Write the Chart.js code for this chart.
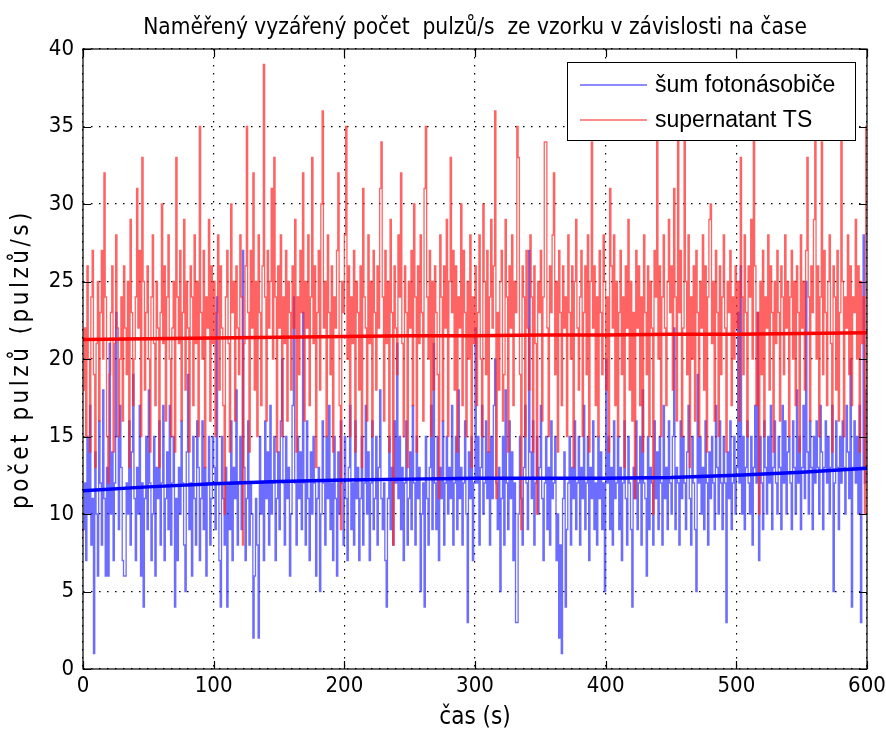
<!DOCTYPE html>
<html>
<head>
<meta charset="utf-8">
<script src="https://cdn.jsdelivr.net/npm/chart.js@4/dist/chart.umd.min.js"></script>
<style>
  html, body { margin: 0; padding: 0; background: #fff; }
  #wrap { width: 886px; height: 731px; }
</style>
</head>
<body>
<div id="wrap"><canvas id="chart" width="886" height="731"></canvas></div>
<script>
// counts per second, one sample per second, 0..600 s
const supernatant = [
  18, 22, 15, 26, 20, 14, 24, 27, 19, 13, 21, 25, 16, 23, 27, 20, 32, 24, 15, 12,
  19, 23, 26, 14, 21, 28, 22, 15, 20, 24, 16, 26, 22, 19, 25, 13, 29, 23, 17, 20,
  24, 31, 22, 27, 15, 33, 25, 18, 23, 26, 20, 14, 24, 28, 21, 17, 25, 22, 13, 23,
  30, 21, 26, 16, 24, 28, 20, 15, 22, 25, 14, 33, 24, 21, 27, 16, 23, 29, 18, 25,
  22, 14, 26, 24, 17, 28, 21, 25, 15, 35, 23, 20, 27, 13, 24, 22, 29, 16, 26, 21,
  25, 15, 23, 28, 18, 26, 22, 17, 10, 24, 27, 21, 14, 30, 23, 25, 16, 26, 22, 19,
  28, 24, 8, 21, 26, 35, 23, 14, 27, 22, 32, 18, 25, 15, 28, 23, 17, 26, 39, 24,
  16, 27, 22, 25, 31, 20, 33, 24, 14, 26, 22, 28, 15, 24, 21, 27, 16, 25, 23, 18,
  26, 22, 29, 14, 24, 19, 27, 23, 32, 16, 25, 22, 28, 17, 24, 33, 21, 26, 13, 23,
  27, 18, 30, 36, 22, 25, 15, 28, 23, 19, 26, 14, 24, 22, 27, 32, 17, 9, 25, 23,
  28, 35, 20, 26, 15, 24, 21, 27, 14, 25, 23, 18, 26, 13, 31, 24, 22, 16, 28, 21,
  25, 15, 27, 23, 18, 26, 22, 31, 34, 24, 16, 27, 21, 25, 14, 29, 23, 8, 26, 22,
  19, 28, 24, 32, 21, 15, 26, 23, 13, 25, 22, 27, 17, 30, 24, 14, 26, 21, 28, 23,
  16, 31, 35, 24, 20, 27, 15, 25, 18, 26, 23, 19, 11, 28, 24, 16, 26, 22, 29, 15,
  25, 33, 23, 27, 18, 26, 14, 24, 22, 30, 17, 27, 23, 15, 25, 20, 28, 13, 24, 21,
  26, 17, 23, 28, 20, 15, 30, 25, 19, 27, 14, 24, 29, 22, 26, 36, 11, 23, 18, 25,
  27, 16, 19, 29, 24, 14, 26, 22, 28, 17, 25, 23, 35, 33, 19, 9, 26, 24, 15, 27,
  22, 18, 28, 24, 14, 26, 21, 10, 25, 23, 27, 16, 24, 34, 34, 22, 15, 26, 23, 28,
  32, 19, 25, 14, 27, 23, 17, 26, 22, 24, 15, 28, 23, 20, 26, 13, 25, 29, 22, 18,
  24, 27, 15, 23, 26, 19, 28, 14, 25, 34, 22, 26, 17, 24, 15, 27, 23, 19, 28, 25,
  18, 24, 14, 31, 26, 22, 28, 17, 25, 15, 23, 27, 19, 24, 13, 26, 22, 29, 18, 25,
  16, 23, 11, 27, 22, 26, 17, 24, 14, 28, 23, 19, 26, 15, 25, 22, 10, 27, 24, 37,
  20, 26, 15, 24, 28, 22, 17, 25, 29, 23, 26, 18, 31, 24, 16, 37, 23, 27, 15, 22,
  36, 25, 19, 28, 13, 24, 20, 26, 16, 27, 23, 15, 25, 22, 28, 18, 26, 14, 24, 29,
  30, 21, 25, 16, 27, 23, 15, 26, 19, 24, 28, 22, 14, 25, 23, 27, 17, 24, 20, 26,
  22, 25, 16, 33, 24, 19, 28, 23, 15, 26, 24, 29, 20, 36, 26, 17, 23, 10, 25, 19,
  27, 15, 24, 22, 28, 18, 26, 23, 14, 25, 21, 27, 23, 16, 26, 24, 19, 28, 22, 25,
  15, 24, 27, 20, 25, 17, 26, 23, 14, 28, 22, 25, 18, 27, 33, 24, 16, 26, 23, 29,
  35, 20, 26, 15, 24, 34, 19, 27, 23, 17, 25, 28, 21, 14, 26, 24, 18, 27, 16, 23,
  36, 25, 15, 24, 22, 28, 19, 26, 17, 24, 23, 29, 20, 26, 14, 25, 21, 24, 10, 35,
  35
];
const noise = [
  9, 12, 7, 15, 10, 17, 8, 11, 1, 14, 10, 6, 16, 12, 8, 18, 11, 6, 13, 6,
  21, 10, 14, 7, 12, 23, 15, 9, 17, 13, 7, 6, 6, 12, 10, 16, 8, 14, 19, 11,
  7, 13, 10, 17, 6, 12, 4, 11, 15, 9, 18, 12, 7, 10, 15, 6, 13, 11, 16, 8,
  12, 17, 7, 11, 14, 9, 17, 8, 12, 15, 4, 11, 7, 13, 10, 16, 12, 8, 5, 14,
  19, 9, 12, 6, 15, 11, 8, 16, 13, 7, 11, 16, 9, 13, 6, 12, 15, 8, 11, 15,
  13, 9, 24, 12, 7, 4, 15, 11, 8, 13, 4, 12, 9, 16, 7, 13, 11, 18, 8, 12,
  15, 9, 27, 13, 7, 11, 16, 8, 12, 10, 2, 6, 11, 8, 2, 15, 10, 12, 7, 16,
  11, 14, 8, 17, 10, 12, 15, 7, 11, 14, 9, 16, 20, 12, 8, 15, 11, 13, 6, 10,
  17, 24, 12, 8, 15, 11, 14, 9, 23, 12, 8, 16, 11, 7, 14, 10, 15, 12, 6, 11,
  13, 5, 10, 16, 12, 8, 15, 11, 17, 9, 12, 7, 15, 11, 6, 14, 10, 16, 12, 8,
  15, 11, 7, 13, 17, 9, 12, 8, 16, 11, 13, 7, 11, 15, 8, 12, 17, 10, 14, 7,
  12, 16, 9, 11, 15, 8, 13, 18, 11, 9, 12, 7, 4, 11, 15, 9, 13, 8, 16, 12,
  21, 11, 15, 9, 13, 7, 12, 16, 8, 11, 14, 9, 17, 12, 8, 15, 11, 13, 5, 10,
  12, 4, 15, 11, 8, 13, 17, 9, 21, 12, 9, 15, 7, 13, 11, 16, 8, 12, 15, 10,
  13, 11, 17, 8, 12, 15, 9, 18, 11, 13, 8, 12, 16, 10, 3, 14, 11, 15, 7, 12,
  22, 12, 15, 8, 13, 17, 10, 12, 16, 11, 14, 8, 15, 11, 17, 20, 12, 9, 13, 5,
  11, 15, 8, 18, 12, 9, 16, 11, 14, 7, 12, 3, 3, 10, 15, 11, 8, 13, 17, 12,
  9, 27, 14, 11, 16, 8, 12, 15, 10, 13, 17, 11, 7, 12, 15, 9, 13, 8, 16, 11,
  12, 15, 7, 10, 2, 8, 1, 11, 14, 4, 9, 12, 15, 8, 13, 11, 16, 9, 12, 15,
  8, 13, 11, 17, 9, 12, 15, 7, 13, 11, 16, 9, 12, 8, 15, 11, 14, 9, 12, 5,
  20, 12, 15, 9, 13, 8, 16, 11, 12, 15, 9, 13, 7, 12, 16, 11, 8, 15, 12, 9,
  4, 13, 11, 16, 9, 12, 15, 8, 18, 12, 11, 6, 15, 9, 13, 12, 8, 16, 11, 14,
  9, 15, 12, 8, 17, 11, 13, 9, 16, 12, 10, 15, 22, 9, 13, 12, 8, 16, 11, 15,
  12, 9, 14, 17, 11, 8, 15, 12, 9, 5, 19, 12, 15, 10, 13, 9, 16, 12, 8, 14,
  11, 15, 12, 9, 17, 13, 10, 16, 12, 9, 15, 12, 3, 14, 11, 16, 9, 12, 15, 10,
  13, 23, 12, 26, 10, 15, 9, 13, 16, 12, 10, 15, 8, 13, 17, 12, 23, 7, 15, 12,
  9, 16, 13, 10, 15, 12, 17, 9, 13, 16, 12, 10, 15, 13, 9, 17, 12, 16, 10, 14,
  15, 12, 9, 16, 13, 10, 18, 12, 15, 9, 13, 17, 11, 25, 14, 10, 16, 13, 9, 15,
  12, 16, 13, 10, 17, 14, 9, 13, 16, 12, 15, 10, 13, 17, 5, 12, 16, 13, 9, 15,
  12, 16, 13, 10, 17, 14, 11, 20, 4, 13, 16, 12, 15, 10, 17, 3, 13, 28, 12, 18,
  18
];

// smoothed trends, read every 50 s
const trendTimes = [0, 50, 100, 150, 200, 250, 300, 350, 400, 450, 500, 550, 600];
const supernatantTrend = [21.25, 21.3, 21.35, 21.4, 21.45, 21.5, 21.5, 21.55, 21.55, 21.6, 21.6, 21.65, 21.7];
const noiseTrend = [11.5, 11.75, 11.95, 12.1, 12.2, 12.25, 12.3, 12.3, 12.3, 12.35, 12.5, 12.7, 12.95];

const xTicks = [0, 100, 200, 300, 400, 500, 600];
const yTicks = [0, 5, 10, 15, 20, 25, 30, 35, 40];

const labels = ['šum fotonásobiče', 'supernatant TS'];
const yTitle = 'počet pulzů (pulzů/s)';
const sampleStep = 1; // s

const toPoints = (vals, times) => vals.map((v, i) => ({ x: times ? times[i] : i * sampleStep, y: v }));

const narrow = '"DejaVu Sans Condensed", "Liberation Sans Narrow", sans-serif';
const plain = '"Liberation Sans", Arial, sans-serif';

// MATLAB style box, inward ticks, y label and legend
const matlabBox = {
  id: 'matlabBox',
  afterDraw(chart) {
    const { ctx, chartArea: a, scales } = chart;
    ctx.save();

    // y axis label, spaced out like the rotated screen font
    ctx.save();
    ctx.translate(22, (a.top + a.bottom) / 2);
    ctx.rotate(-Math.PI / 2);
    ctx.font = '24px ' + narrow;
    ctx.letterSpacing = '3.5px';
    ctx.fillStyle = '#000';
    ctx.textAlign = 'center';
    ctx.textBaseline = 'middle';
    ctx.fillText(yTitle, 0, 0);
    ctx.restore();

    // legend
    const lx = 567, ly = 62, lw = 288, lh = 78;
    ctx.fillStyle = '#fff';
    ctx.fillRect(lx, ly, lw, lh);
    ctx.strokeStyle = '#000';
    ctx.lineWidth = 1;
    ctx.strokeRect(lx + 0.5, ly + 0.5, lw, lh);
    const rows = [
      { y: ly + 23, color: '#6464ff', text: labels[0] },
      { y: ly + 58, color: '#ff6464', text: labels[1] }
    ];
    ctx.font = '23px ' + plain;
    ctx.textBaseline = 'middle';
    rows.forEach(r => {
      ctx.strokeStyle = r.color;
      ctx.lineWidth = 1.3;
      ctx.beginPath();
      ctx.moveTo(lx + 13, r.y);
      ctx.lineTo(lx + 80, r.y);
      ctx.stroke();
      ctx.fillStyle = '#000';
      ctx.fillText(r.text, lx + 88, r.y + 1);
    });

    // axes box
    ctx.strokeStyle = '#000';
    ctx.lineWidth = 1.2;
    ctx.strokeRect(a.left, a.top, a.right - a.left, a.bottom - a.top);

    // inward ticks
    const tl = 8;
    ctx.beginPath();
    xTicks.forEach(t => {
      const px = Math.round(scales.x.getPixelForValue(t)) + 0.5;
      ctx.moveTo(px, a.bottom); ctx.lineTo(px, a.bottom - tl);
      ctx.moveTo(px, a.top); ctx.lineTo(px, a.top + tl);
    });
    yTicks.forEach(t => {
      const py = Math.round(scales.y.getPixelForValue(t)) + 0.5;
      ctx.moveTo(a.left, py); ctx.lineTo(a.left + tl, py);
      ctx.moveTo(a.right, py); ctx.lineTo(a.right - tl, py);
    });
    ctx.stroke();
    ctx.restore();
  }
};

new Chart(document.getElementById('chart'), {
  type: 'line',
  data: {
    datasets: [
      {
        label: 'trend supernatant',
        data: toPoints(supernatantTrend, trendTimes),
        borderColor: '#ff0000',
        borderWidth: 3.5,
        pointRadius: 0,
        order: 0
      },
      {
        label: 'trend noise',
        data: toPoints(noiseTrend, trendTimes),
        borderColor: '#0000ff',
        borderWidth: 3.5,
        pointRadius: 0,
        order: 0
      },
      {
        label: labels[1],
        data: toPoints(supernatant),
        borderColor: 'rgba(255, 40, 40, 0.72)',
        borderWidth: 1.3,
        pointRadius: 0,
        stepped: true,
        order: 1
      },
      {
        label: labels[0],
        data: toPoints(noise),
        borderColor: 'rgba(40, 40, 255, 0.68)',
        borderWidth: 1.3,
        pointRadius: 0,
        stepped: true,
        order: 2
      }
    ]
  },
  options: {
    responsive: false,
    animation: false,
    events: [],
    layout: { padding: { left: 0, right: 19, top: 0, bottom: 0 } },
    plugins: {
      legend: { display: false },
      tooltip: { enabled: false },
      title: {
        display: true,
        fullSize: false,
        text: 'Naměřený vyzářený počet  pulzů/s  ze vzorku v závislosti na čase',
        color: '#000',
        font: { family: narrow, size: 22.5, weight: 'normal', lineHeight: 1 },
        padding: { top: 17, bottom: 9.5 }
      }
    },
    scales: {
      x: {
        type: 'linear',
        min: 0,
        max: 600,
        afterFit: s => { s.height = 62; s.paddingLeft = 0; s.paddingRight = 0; },
        afterBuildTicks: s => { s.ticks = xTicks.map(v => ({ value: v })); },
        grid: { color: '#000', lineWidth: 1.2, drawTicks: false },
        border: { display: false, dash: [1.5, 6.5] },
        ticks: { color: '#000', padding: 6, maxRotation: 0, font: { family: narrow, size: 22, lineHeight: 1 } },
        title: { display: true, text: 'čas (s)', color: '#000', font: { family: narrow, size: 24, lineHeight: 1 }, padding: { top: 0, bottom: 1 } }
      },
      y: {
        min: 0,
        max: 40,
        afterFit: s => { s.width = 83; s.paddingTop = 0; s.paddingBottom = 0; },
        afterBuildTicks: s => { s.ticks = yTicks.map(v => ({ value: v })); },
        grid: { color: '#000', lineWidth: 1.2, drawTicks: false },
        border: { display: false, dash: [1.5, 6.5] },
        ticks: { color: '#000', padding: 9, font: { family: narrow, size: 22, lineHeight: 1 } },
        title: { display: false }
      }
    }
  },
  plugins: [matlabBox]
});
</script>
</body>
</html>
